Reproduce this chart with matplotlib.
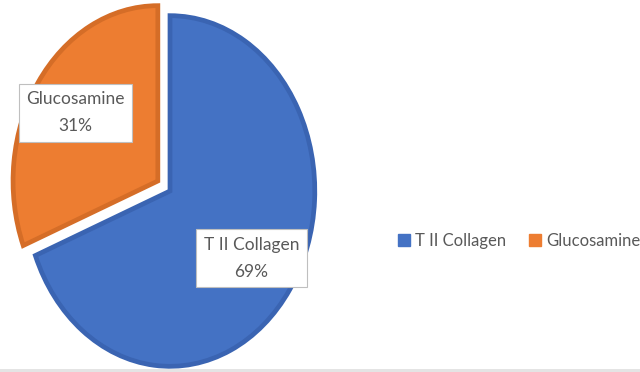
import numpy as np
import matplotlib.pyplot as plt
from matplotlib.lines import Line2D
from matplotlib.patches import Rectangle

# --- datos ---
categorias = ["T II Collagen", "Glucosamine"]
porcentajes = [69, 31]
colores = ["#4472C4", "#ED7D31"]
bordes = ["#3A64B2", "#D56D27"]
separacion = [0.0, 0.1]          # la cuña de Glucosamine va separada
dist_etiqueta = [0.67, 0.68]     # distancia radial de cada rótulo

TXT = "#595959"
FUENTE = ["Lato", "DejaVu Sans"]

fig = plt.figure(figsize=(6.4, 3.72), dpi=100)
# ejes a toda la figura: el centro de la tarta queda en (170, 191) px
ax = fig.add_axes([0, 0, 1, 1])
rx, ry = 147, 178

wedges, _ = ax.pie(porcentajes, colors=colores, startangle=90, counterclock=False,
                   explode=separacion, radius=0.985,
                   wedgeprops=dict(linewidth=3.4))
for w, b in zip(wedges, bordes):
    w.set_edgecolor(b)
    w.set_joinstyle("miter")

# pie() fuerza aspecto igual; aquí la tarta se dibuja como elipse
ax.set_aspect("auto")
ax.set_xlim((0 - 170) / rx, (640 - 170) / rx)
ax.set_ylim((191 - 372) / ry, (191 - 0) / ry)
ax.axis("off")

# rótulos con el nombre y el porcentaje dentro de un recuadro blanco
for w, cat, p, d, e in zip(wedges, categorias, porcentajes, dist_etiqueta, separacion):
    ang = np.deg2rad((w.theta1 + w.theta2) / 2)
    x = (d + e) * np.cos(ang)
    y = (d + e) * np.sin(ang)
    ax.text(x, y, f"{cat}\n{p}%", ha="center", va="center", color=TXT,
            fontsize=12.5, family=FUENTE, linespacing=1.85,
            bbox=dict(boxstyle="square,pad=0.42", fc="white", ec="#BFBFBF", lw=0.8))

handles = [Line2D([], [], ls="none", marker="s", markersize=8, color=c) for c in colores]
fig.legend(handles, categorias, loc="center", bbox_to_anchor=(519 / 640, 1 - 241 / 372),
           ncol=2, frameon=False, handletextpad=0.3, columnspacing=1.3,
           prop=dict(family=FUENTE, size=12), labelcolor=TXT, handlelength=0.8)

# línea gris del marco inferior
fig.add_artist(Rectangle((0, 0), 1, 3 / 372, transform=fig.transFigure,
                         color="#E4E4E4", lw=0))

fig.savefig("out.png", dpi=100)
